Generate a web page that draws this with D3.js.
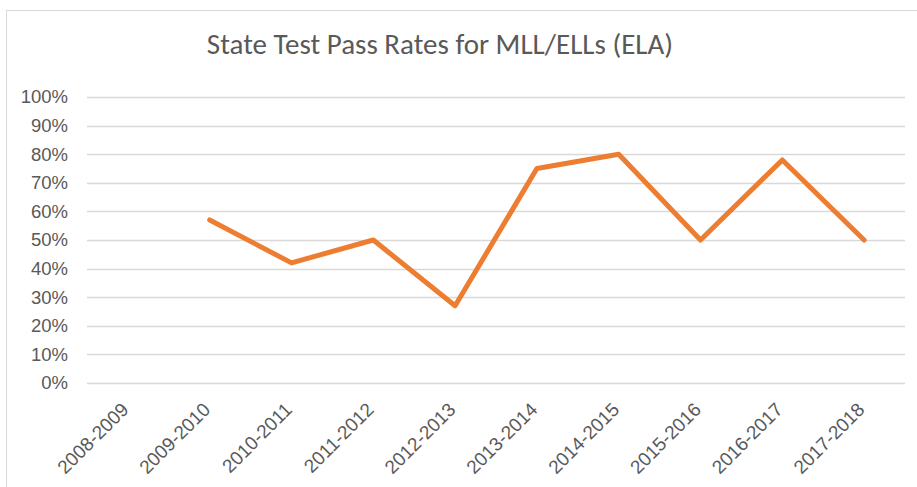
<!DOCTYPE html>
<html>
<head>
<meta charset="utf-8">
<script src="https://cdn.jsdelivr.net/npm/d3@7"></script>
<style>
  html, body { margin: 0; padding: 0; background: #fff; }
  svg { display: block; font-family: Calibri, Carlito, Lato, sans-serif; }
</style>
</head>
<body>
<div id="chart"></div>
<script>
// Chart data
const title = 'State Test Pass Rates for MLL/ELLs (ELA)';
const years = ['2008-2009', '2009-2010', '2010-2011', '2011-2012', '2012-2013',
               '2013-2014', '2014-2015', '2015-2016', '2016-2017', '2017-2018'];
const passRates = [null, 0.57, 0.42, 0.50, 0.27, 0.75, 0.80, 0.50, 0.78, 0.50];
const yTicks = [0, 0.1, 0.2, 0.3, 0.4, 0.5, 0.6, 0.7, 0.8, 0.9, 1.0];

const width = 917;
const height = 487;
const margin = { top: 97, right: 12, bottom: 104, left: 87 };

const svg = d3.select('#chart')
    .append('svg')
    .attr('width', width)
    .attr('height', height);

// Chart frame (extends past the right and bottom edges)
svg.append('rect')
    .attr('x', 6.5)
    .attr('y', 10.5)
    .attr('width', 1000)
    .attr('height', 600)
    .attr('fill', 'none')
    .attr('stroke', '#d9d9d9');

// Scales
const x = d3.scaleBand()
    .domain(years)
    .range([margin.left, width - margin.right]);

const y = d3.scaleLinear()
    .domain([0, 1])
    .range([height - margin.bottom, margin.top]);

// Gridlines
svg.append('g')
    .selectAll('line')
    .data(yTicks)
    .enter()
    .append('line')
    .attr('x1', margin.left)
    .attr('x2', width - margin.right)
    .attr('y1', d => Math.round(y(d)) + 0.5)
    .attr('y2', d => Math.round(y(d)) + 0.5)
    .attr('stroke', '#d9d9d9')
    .attr('stroke-width', 1.5);

// Y axis labels
const yAxis = d3.axisLeft(y)
    .tickValues(yTicks)
    .tickFormat(d3.format('.0%'))
    .tickSize(0)
    .tickPadding(19);

svg.append('g')
    .attr('transform', `translate(${margin.left},0)`)
    .call(yAxis)
    .call(g => g.select('.domain').remove())
    .selectAll('text')
    .attr('fill', '#595959')
    .style('font-size', '18.5px');

// X axis labels, rotated
const xAxis = d3.axisBottom(x).tickSize(0).tickPadding(0);

svg.append('g')
    .attr('transform', `translate(0,${height - margin.bottom})`)
    .call(xAxis)
    .call(g => g.select('.domain').remove())
    .selectAll('text')
    .attr('fill', '#595959')
    .style('font-size', '19px')
    .attr('text-anchor', 'end')
    .attr('dy', '0.35em')
    .attr('transform', 'translate(-3,23) rotate(-45)');

// Line
const line = d3.line()
    .defined(d => d !== null)
    .x((d, i) => x(years[i]) + x.bandwidth() / 2)
    .y(d => y(d));

svg.append('path')
    .datum(passRates)
    .attr('fill', 'none')
    .attr('stroke', '#ed7d31')
    .attr('stroke-width', 5)
    .attr('stroke-linejoin', 'round')
    .attr('stroke-linecap', 'round')
    .attr('d', line);

// Title
svg.append('text')
    .attr('x', 440)
    .attr('y', 54)
    .attr('text-anchor', 'middle')
    .attr('fill', '#595959')
    .style('font-size', '29px')
    .text(title);
</script>
</body>
</html>
